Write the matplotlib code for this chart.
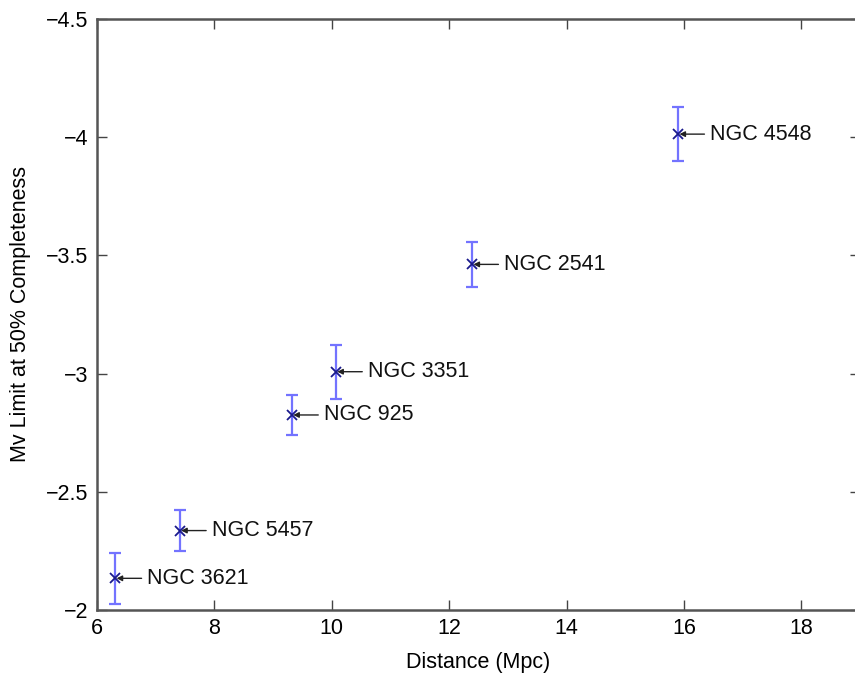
import matplotlib
matplotlib.use("Agg")
import matplotlib.pyplot as plt

names = ["NGC 3621", "NGC 5457", "NGC 925", "NGC 3351", "NGC 2541", "NGC 4548"]
distance = [6.31, 7.41, 9.32, 10.07, 12.39, 15.90]
mv_limit = [-2.134, -2.336, -2.825, -3.008, -3.462, -4.013]
mv_err = [0.108, 0.087, 0.086, 0.115, 0.094, 0.114]

xticks = [6, 8, 10, 12, 14, 16, 18]
yticks = [-4.5, -4.0, -3.5, -3.0, -2.5, -2.0]
ytick_labels = ["\u22124.5", "\u22124", "\u22123.5", "\u22123", "\u22122.5", "\u22122"]

plt.rcParams['font.family'] = ['Liberation Sans', 'DejaVu Sans']
FS = 15.5

fig = plt.figure(figsize=(8.55, 6.73), dpi=100)
ax = fig.add_axes([97/855, 63/673, 763/855, 591/673])

ax.errorbar(distance, mv_limit, yerr=mv_err, fmt='none', ecolor=(0.45, 0.45, 1.0),
            elinewidth=1.6, capsize=4.5, capthick=1.6, zorder=2)
ax.plot(distance, mv_limit, linestyle='none', marker='x', color=(0.1, 0.1, 0.55),
        markersize=7, markeredgewidth=1.3, zorder=3)

for n, x, y in zip(names, distance, mv_limit):
    ax.annotate(n, xy=(x, y), xytext=(23, 0), textcoords='offset points',
                ha='left', va='center', fontsize=FS, color='#111111',
                arrowprops=dict(arrowstyle='-|>', color='#222222', lw=1.0,
                                mutation_scale=8, shrinkA=2, shrinkB=1))

ax.set_xlim(6, 19)
ax.set_ylim(-2, -4.5)
ax.set_xticks(xticks)
ax.set_xticklabels([str(t) for t in xticks], fontsize=FS)
ax.set_yticks(yticks)
ax.set_yticklabels(ytick_labels, fontsize=FS)
ax.tick_params(direction='in', length=7, width=1.0, top=True, right=True,
               color='#444444', pad=6)
for s in ax.spines.values():
    s.set_linewidth(1.8)
    s.set_color('#555555')

ax.set_xlabel("Distance (Mpc)", fontsize=FS, labelpad=9)
ax.set_ylabel("Mv Limit at 50% Completeness", fontsize=FS, labelpad=11)

fig.savefig("out.png", dpi=100)
